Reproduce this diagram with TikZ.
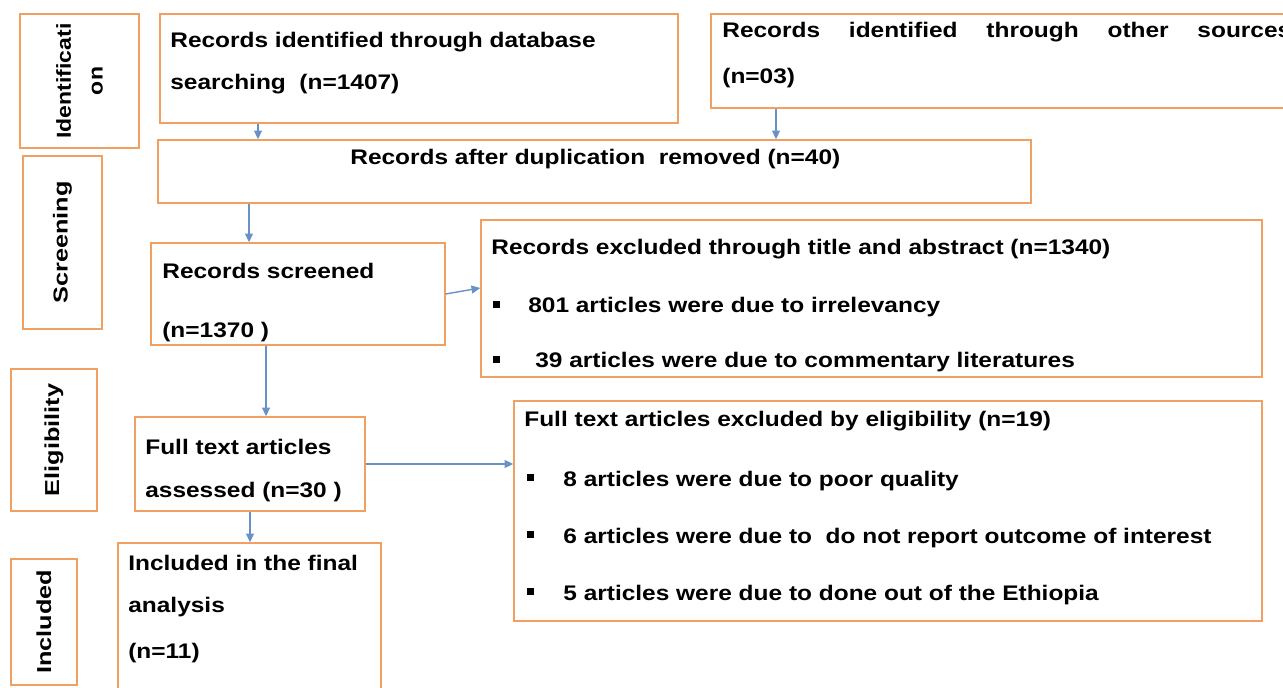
\documentclass[tikz,border=0pt]{standalone}
\usepackage{fontspec}
\setmainfont{Liberation Sans}
\newfontfamily\boxfont{Liberation Sans}[FakeStretch=1.16]
\newfontfamily\stagefont{Liberation Sans}[FakeStretch=1.25]
\usetikzlibrary{arrows.meta,fit}
\definecolor{boxorange}{RGB}{241,160,98}
\definecolor{arrowblue}{RGB}{104,146,198}
\tikzset{
  box/.style={draw=boxorange, line width=0.8pt, inner sep=0pt},
  txt/.style={anchor=base west, inner sep=0pt, font=\boxfont\bfseries\fontsize{12}{14}\selectfont},
  stage/.style={rotate=90, align=center, inner sep=0pt, font=\stagefont\bfseries\fontsize{11.5}{18}\selectfont},
  flow/.style={draw=arrowblue, line width=0.8pt, -{Triangle[length=5pt,width=4.5pt]}},
}
\newcommand{\sqbul}[1]{\rule[2.85pt]{4pt}{4pt}\hspace{#1}}
\begin{document}
\begin{tikzpicture}[x=0.02cm,y=-0.02cm]
\useasboundingbox (0,0) rectangle (1283,688);
\clip (0,0) rectangle (1283,688);

% stage labels
\node[box, fit={(20,14) (139,148)}] (idbox) {};
\node[box, fit={(23,156) (102,329)}] (scrbox) {};
\node[box, fit={(11,369) (97,511)}] (eligbox) {};
\node[box, fit={(11,559) (77,685)}] (inclbox) {};
\node[stage] (idtxt) at (idbox.center) {\scalebox{0.91}[1]{Identificati}\\\scalebox{0.91}[1]{on}};
\node[stage] (scrtxt) at (scrbox.center) {Screening};
\node[stage] (eligtxt) at (eligbox.center) {Eligibility};
\node[stage] (incltxt) at (inclbox.center) {Included};

% flow boxes
\node[box, fit={(160,14) (678,123)}] (A) {};
\node[box, fit={(711,14) (1300,108)}] (B) {};
\node[box, fit={(158,140) (1031,203)}] (C) {};
\node[box, fit={(151,243) (445,345)}] (D) {};
\node[box, fit={(481,220) (1262,377)}] (E) {};
\node[box, fit={(135,417) (365,511)}] (F) {};
\node[box, fit={(514,401) (1262,621)}] (G) {};
\node[box, fit={(118,543) (381,700)}] (H) {};

% box texts
\node[txt] (a1) at (170,48) {Records identified through database};
\node[txt] (a2) at (170,90) {searching~ (n=1407)};
\node[txt] (b1) at (722,38) {\makebox[11.38cm][s]{Records identified through other sources}};
\node[txt] (b2) at (722,84) {(n=03)};
\node[txt] (c1) at (350,165) {Records after duplication~ removed (n=40)};
\node[txt] (d1) at (162,279) {Records screened};
\node[txt] (d2) at (162,338) {(n=1370 )};
\node[txt] (e1) at (491,255) {Records excluded through title and abstract (n=1340)};
\node[txt] (e2) at (493,313) {\sqbul{15.9pt}801 articles were due to irrelevancy};
\node[txt] (e3) at (493,368) {\sqbul{19.9pt}39 articles were due to commentary literatures};
\node[txt] (f1) at (145,455) {Full text articles};
\node[txt] (f2) at (145,498) {assessed (n=30 )};
\node[txt] (g1) at (524,427) {Full text articles excluded by eligibility (n=19)};
\node[txt] (g2) at (527,486) {\sqbul{16.5pt}8 articles were due to poor quality};
\node[txt] (g3) at (527,543) {\sqbul{16.5pt}6 articles were due to~ do not report outcome of interest};
\node[txt] (g4) at (527,600) {\sqbul{16.5pt}5 articles were due to done out of the Ethiopia};
\node[txt] (h1) at (128,570) {Included in the final};
\node[txt] (h2) at (128,612) {analysis};
\node[txt] (h3) at (128,658) {(n=11)};

% connectors
\coordinate (ac) at (258,0);
\coordinate (bc) at (776,0);
\coordinate (cd) at (249,0);
\coordinate (df) at (266,0);
\coordinate (fh) at (250,0);
\coordinate (de) at (0,288);
\draw[flow] (A.south -| ac) -- (C.north -| ac);
\draw[flow] (B.south -| bc) -- (C.north -| bc);
\draw[flow] (C.south -| cd) -- (D.north -| cd);
\draw[flow] (D.east) -- (E.west |- de);
\draw[flow] (D.south -| df) -- (F.north -| df);
\draw[flow] (F.east) -- (F.east -| G.west);
\draw[flow] (F.south -| fh) -- (H.north -| fh);
\end{tikzpicture}
\end{document}
